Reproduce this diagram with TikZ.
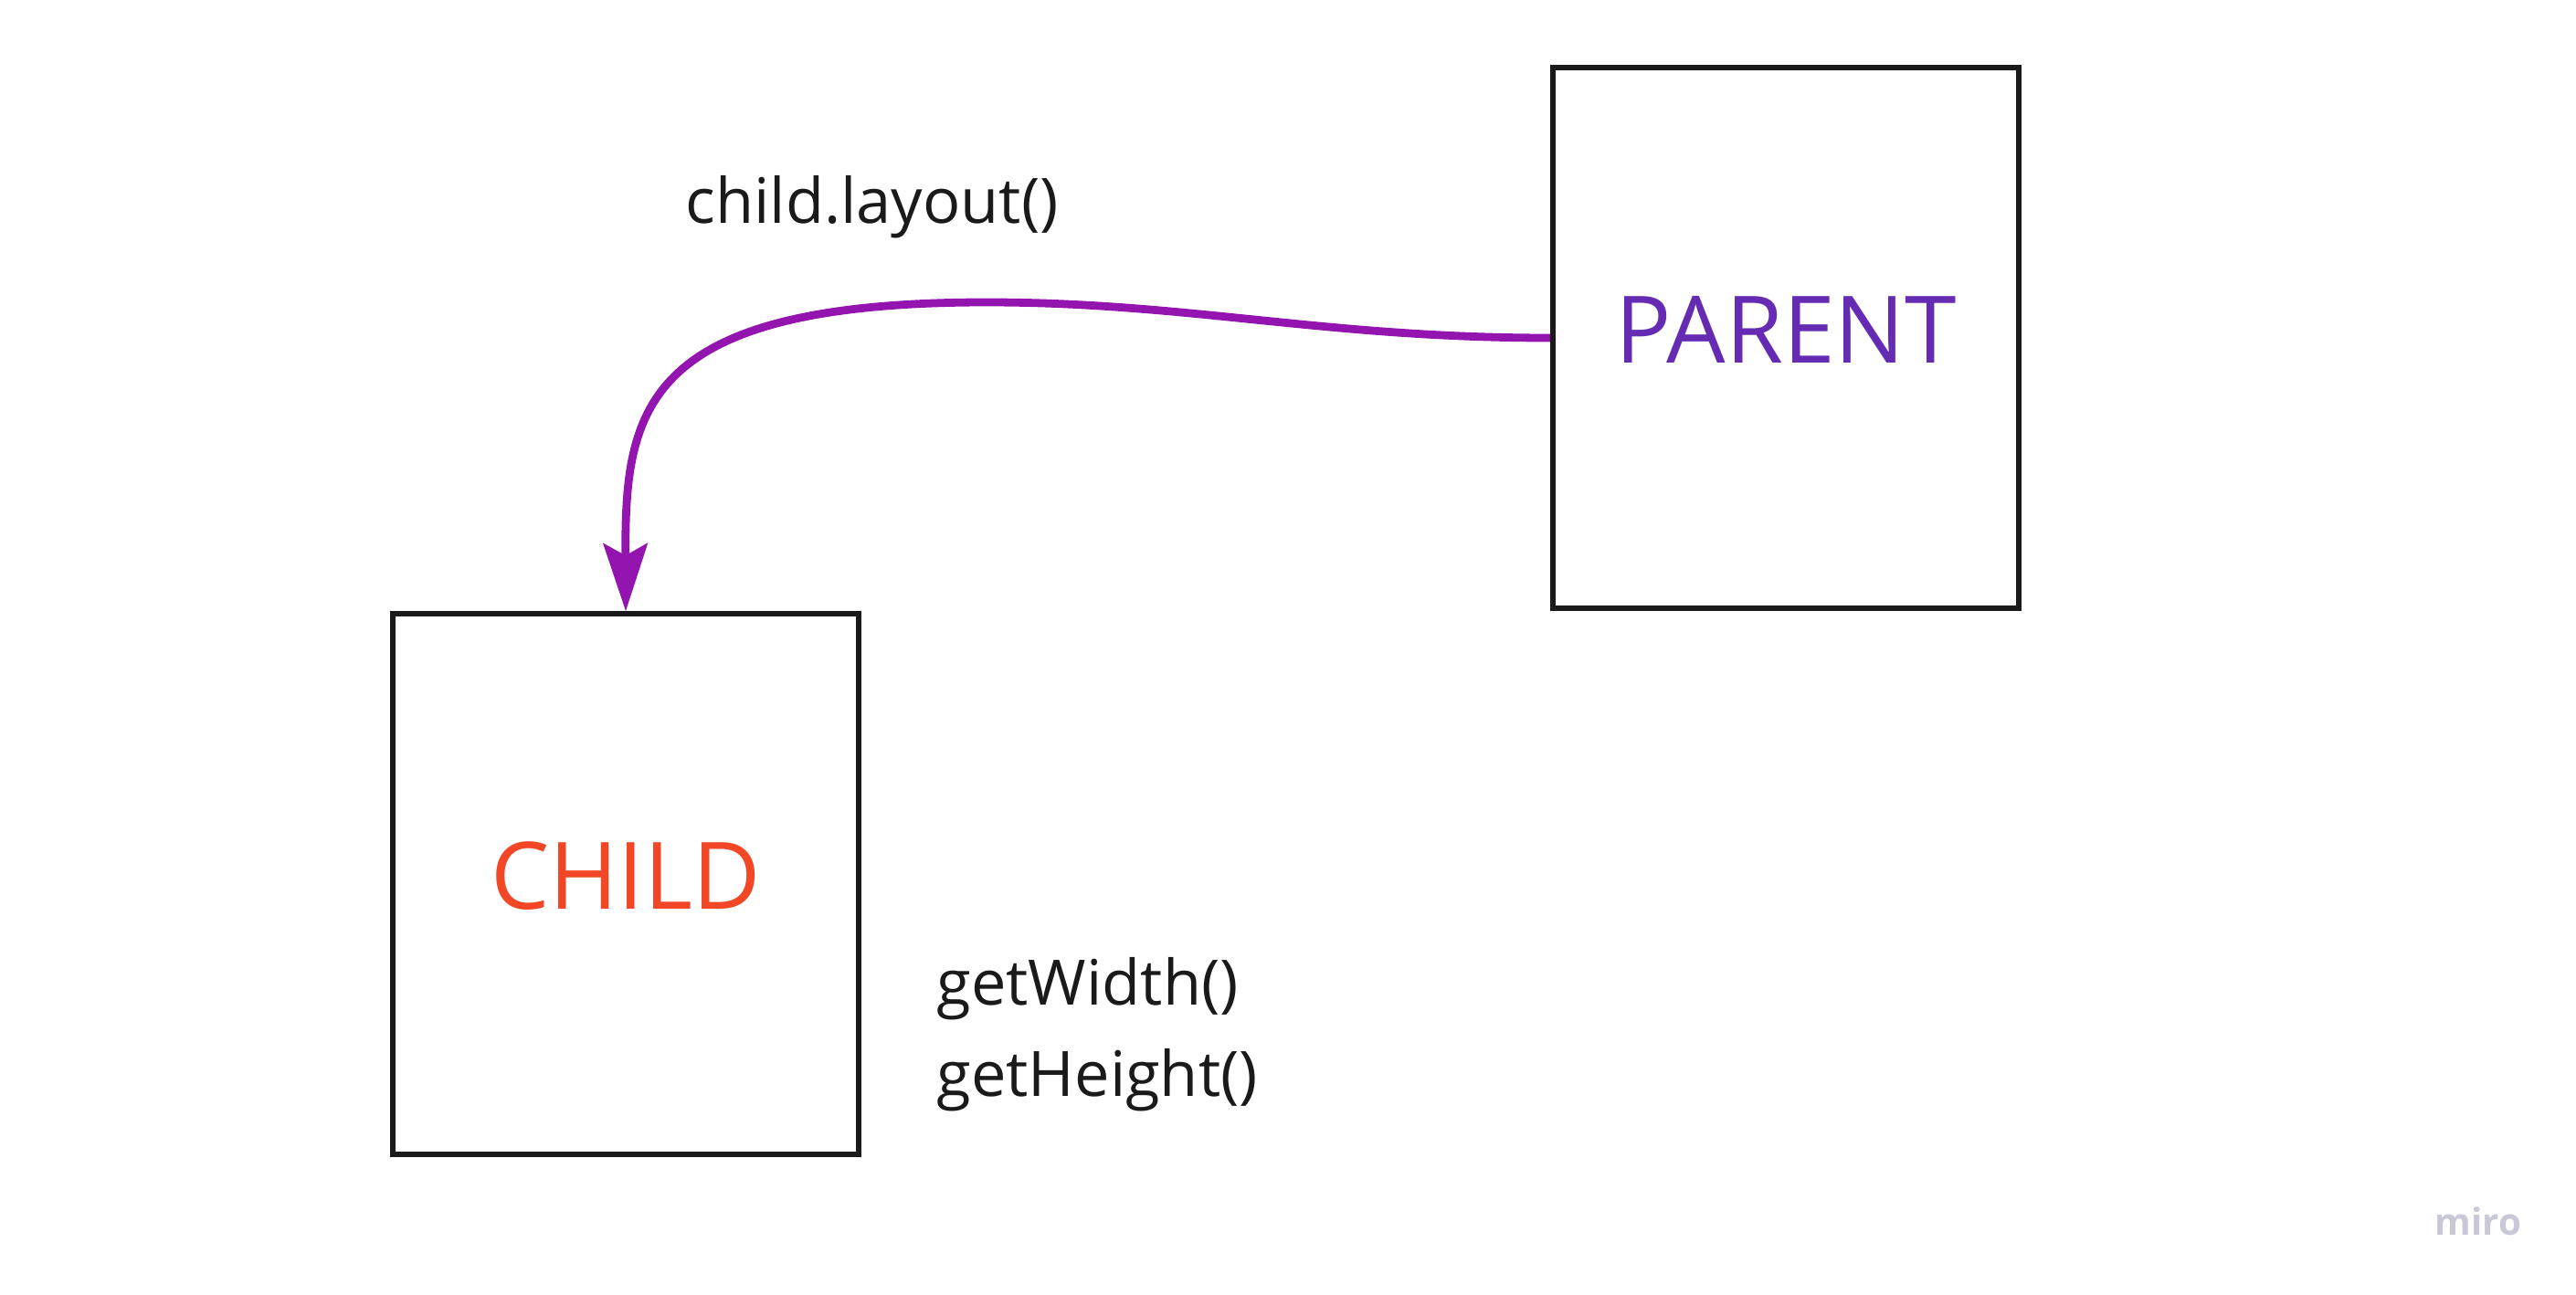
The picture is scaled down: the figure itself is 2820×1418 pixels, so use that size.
\documentclass[tikz,border=0pt]{standalone}
\usepackage{fontspec}
\setmainfont{Open Sans}
\usetikzlibrary{arrows.meta,positioning}
\definecolor{boxline}{HTML}{1A1A1A}
\definecolor{callpurple}{HTML}{9314AE}
\definecolor{parentcol}{HTML}{652CB3}
\definecolor{childcol}{HTML}{F24726}
\definecolor{mirogray}{HTML}{C8C8D6}
\newcommand{\boxtext}[1]{\raisebox{2.6pt}[\height][\depth]{#1}}

\begin{document}
\begin{tikzpicture}[x=0.01cm,y=-0.01cm]  % one unit = one pixel of the reference
    \tikzset{
        frame/.style={draw=boxline, line width=1.7pt, minimum width=5.1cm, minimum height=5.91cm,
                      inner sep=0pt, font=\fontsize{29}{34}\selectfont},
        method/.style={anchor=base west, inner sep=0pt, text=boxline, font=\fontsize{19.5}{24}\selectfont},
        call/.style={draw=callpurple, line width=2.5pt, -{Stealth[length=7.4mm,width=4.8mm,inset=1.3mm]}}
    }
    % Canvas
    \useasboundingbox (0,0) rectangle (2820,1418);
    % The two boxes
    \node[frame, text=parentcol] (parent) at (1955,370) {\boxtext{PARENT}};
    \node[frame, text=childcol] (child) at (685,968) {\boxtext{CHILD}};
    % Call from parent to child
    \draw[call] (parent.west) .. controls (1450,370) and (1300,331) .. (1080,331)
        .. controls (700,331) and (684,450) .. (child.north);
    % Method labels
    \node[method] (layout) at (750,244) {child.layout()};
    \node[method] (width) at (1025,1100) {getWidth()};
    \node[method] (height) at (1025,1200) {getHeight()};
    % Watermark
    \node[anchor=base west, inner sep=0pt, text=mirogray, font=\bfseries\fontsize{11.5}{14}\selectfont] (miro) at (2665,1352) {miro};
\end{tikzpicture}
\end{document}
